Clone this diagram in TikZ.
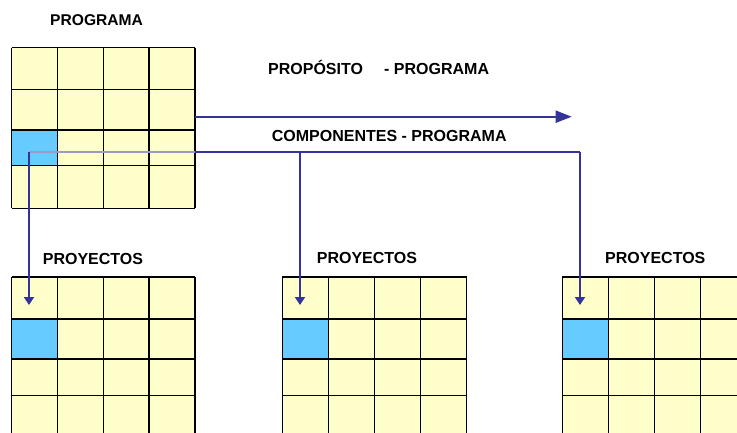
\documentclass[tikz,border=0pt]{standalone}
\usepackage{fontspec}
\setmainfont{Liberation Sans}
\usetikzlibrary{arrows.meta}
\definecolor{cellyellow}{HTML}{FFFFCC}
\definecolor{cellblue}{HTML}{66CCFF}
\definecolor{arrblue}{HTML}{333399}
\definecolor{arrlight}{HTML}{9A9AC4}
\tikzset{
  gridline/.style={draw=black, line width=1.1pt},
  bluecell/.style={fill=cellblue, draw=black, line width=1.1pt, inner sep=0pt},
  title/.style={font=\fontsize{16}{19}\selectfont\bfseries, inner sep=0pt, anchor=base west},
  label/.style={font=\fontsize{16}{19}\selectfont\bfseries, inner sep=0pt, anchor=base west},
  conn/.style={draw=arrblue, line width=2pt},
  bigarrow/.style={conn, -{Triangle[length=16pt, width=12pt]}},
  droparrow/.style={conn, -{Triangle[length=8pt, width=10pt]}},
}
% #1 x list, #2 y list, #3 x0, #4 x4, #5 y0, #6 y4
\newcommand{\mygrid}[6]{%
  \fill[cellyellow] (#3,#5) rectangle (#4,#6);
  \foreach \gx in {#1} {\draw[gridline] (\gx,#5) -- (\gx,#6);}
  \foreach \gy in {#2} {\draw[gridline] (#3,\gy) -- (#4,\gy);}
}
\begin{document}
\begin{tikzpicture}[x=1pt,y=-1pt]
\useasboundingbox (0,0) rectangle (737,433);
\begin{scope}
\clip (0,0) rectangle (737,433);
% top grid
\mygrid{11.7,57.3,103.3,149,195}{47.7,89.3,130,165.7,208.3}{11.7}{195}{47.7}{208.3}
\node[bluecell, minimum width=45.6pt, minimum height=35.7pt] (src) at (34.5,147.85) {};
\node[inner sep=0pt, minimum width=183.3pt, minimum height=160.6pt] (prog) at (103.35,128) {};
% bottom grids
\mygrid{11.7,57.3,103.3,149,195}{277,319,359,395.3,437}{11.7}{195}{277}{437}
\mygrid{282.3,328.3,374.7,420.7,466.7}{277,319,359,395.3,437}{282.3}{466.7}{277}{437}
\mygrid{562.3,608.3,654.7,700.7,747}{277,319,359,395.3,437}{562.3}{747}{277}{437}
\node[bluecell, minimum width=45.6pt, minimum height=40pt] (b1) at (34.5,339) {};
\node[bluecell, minimum width=46pt, minimum height=40pt] (b2) at (305.3,339) {};
\node[bluecell, minimum width=46pt, minimum height=40pt] (b3) at (585.3,339) {};
\end{scope}
% titles
\node[title, font=\fontsize{15.6}{19}\selectfont\bfseries] (t0) at (50,26) {PROGRAMA};
\node[title] (t1) at (42.7,264.3) {PROYECTOS};
\node[title] (t2) at (316.7,263.3) {PROYECTOS};
\node[title] (t3) at (605,263.3) {PROYECTOS};
\node[label] (l1) at (268,75) {PROPÓSITO};
\node[label] (l1b) at (384,75) {- PROGRAMA};
\node[label] (l2) at (271.7,141.7) {COMPONENTES - PROGRAMA};
% connectors
\coordinate (pa) at (195,116.7);
\coordinate (pb) at (571.7,116.7);
\draw[bigarrow] (pa) -- (pb);
\coordinate (j0) at (29,152.3);
\coordinate (je) at (195,152.3);
\coordinate (j1) at (300,152.3);
\coordinate (j2) at (580,152.3);
\coordinate (d1) at (29,305);
\coordinate (d2) at (300,305);
\coordinate (d3) at (580,305);
\draw[draw=arrlight, line width=1.6pt] (j0) -- (je);
\draw[conn] (je) -- (j2);
\draw[droparrow] (j0) -- (d1);
\draw[droparrow] (j1) -- (d2);
\draw[droparrow] (j2) -- (d3);
\end{tikzpicture}
\end{document}
